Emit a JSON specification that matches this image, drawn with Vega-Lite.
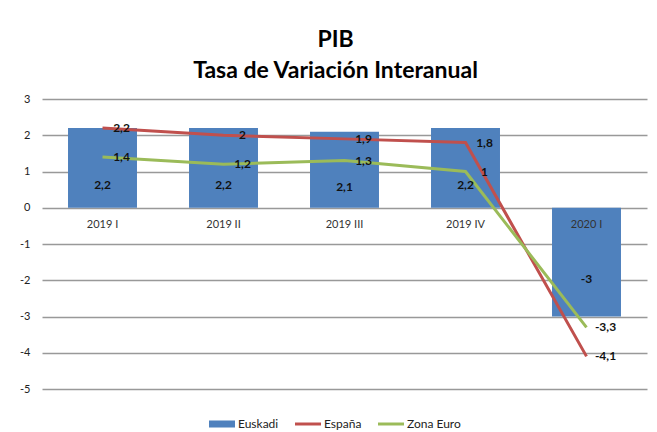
{
  "$schema": "https://vega.github.io/schema/vega-lite/v6.json",
  "width": 605,
  "height": 290,
  "autosize": {"type": "none"},
  "padding": {"left": 42, "top": 99, "right": 10, "bottom": 43},
  "config": {
    "locale": {"number": {"decimal": ",", "thousands": ".", "grouping": [3], "currency": ["", " €"], "minus": "-"}},
    "view": {"stroke": null},
    "font": "Lato",
    "axis": {"labelFont": "Lato", "labelColor": "#222", "labelFontSize": 11},
    "axisY": {"labelOverlap": false, "tickCount": 12, "domain": false, "ticks": false, "labelPadding": 12, "gridColor": "#999", "gridWidth": 1.3, "title": null}
  },
  "title": {
    "text": ["PIB", "Tasa de Variación Interanual"],
    "font": "Lato",
    "fontSize": 23,
    "fontWeight": "bold",
    "lineHeight": 31,
    "offset": 10,
    "dx": -9,
    "color": "#000"
  },
  "data": {
    "values": [
      {"q": "2019 I", "serie": "Euskadi", "v": 2.2},
      {"q": "2019 II", "serie": "Euskadi", "v": 2.2},
      {"q": "2019 III", "serie": "Euskadi", "v": 2.1},
      {"q": "2019 IV", "serie": "Euskadi", "v": 2.2},
      {"q": "2020 I", "serie": "Euskadi", "v": -3},
      {"q": "2019 I", "serie": "España", "v": 2.2},
      {"q": "2019 II", "serie": "España", "v": 2},
      {"q": "2019 III", "serie": "España", "v": 1.9},
      {"q": "2019 IV", "serie": "España", "v": 1.8},
      {"q": "2020 I", "serie": "España", "v": -4.1},
      {"q": "2019 I", "serie": "Zona Euro", "v": 1.4},
      {"q": "2019 II", "serie": "Zona Euro", "v": 1.2},
      {"q": "2019 III", "serie": "Zona Euro", "v": 1.3},
      {"q": "2019 IV", "serie": "Zona Euro", "v": 1},
      {"q": "2020 I", "serie": "Zona Euro", "v": -3.3}
    ]
  },
  "encoding": {
    "x": {
      "field": "q",
      "type": "nominal",
      "sort": null,
      "title": null,
      "scale": {"paddingInner": 0.43, "paddingOuter": 0.215},
      "axis": {"labelAngle": 0, "domain": false, "ticks": false, "offset": -181, "labelPadding": 10, "zindex": 2, "labelColor": "#333"}
    }
  },
  "layer": [
    {
      "transform": [{"filter": "datum.serie === 'Euskadi'"}],
      "mark": {"type": "bar"},
      "encoding": {
        "y": {
          "field": "v",
          "type": "quantitative",
          "title": null,
          "scale": {"domain": [-5, 3], "nice": false},
          "axis": {"values": [-5, -4, -3, -2, -1, 0, 1, 2, 3], "tickCount": 12, "format": "d", "labelOverlap": false}
        },
        "color": {
          "field": "serie",
          "type": "nominal",
          "scale": {"domain": ["Euskadi", "España", "Zona Euro"], "range": ["#4F81BD", "#C0504D", "#9BBB59"]},
          "legend": {
            "title": null,
            "orient": "none",
            "legendX": 167,
            "legendY": 312,
            "padding": 0,
            "direction": "horizontal",
            "labelFontSize": 12,
            "labelColor": "#222",
            "symbolSize": 676,
            "columnPadding": 16,
            "labelOffset": 3,
            "encode": {
              "symbols": {
                "update": {
                  "shape": {"signal": "datum.value === 'Euskadi' ? 'M-1,-0.27H1V0.27H-1Z' : 'M-1,-0.115H1V0.115H-1Z'"},
                  "strokeWidth": {"value": 0}
                }
              }
            }
          }
        }
      }
    },
    {
      "transform": [{"filter": "datum.serie !== 'Euskadi'"}],
      "mark": {"type": "line", "strokeWidth": 3},
      "encoding": {
        "y": {"field": "v", "type": "quantitative"},
        "color": {"field": "serie", "type": "nominal"}
      }
    },
    {
      "transform": [{"filter": "datum.serie === 'Euskadi'"}, {"calculate": "datum.v / 2", "as": "mid"}],
      "mark": {"type": "text", "fontWeight": "bold", "fontSize": 12, "dy": 17, "color": "#111"},
      "encoding": {
        "y": {"field": "mid", "type": "quantitative"},
        "text": {"field": "v", "type": "quantitative", "format": ".1~f"}
      }
    },
    {
      "transform": [{"filter": "datum.serie !== 'Euskadi'"}],
      "mark": {"type": "text", "fontWeight": "bold", "fontSize": 12, "dx": 19, "dy": 0, "color": "#111"},
      "encoding": {
        "y": {"field": "v", "type": "quantitative"},
        "text": {"field": "v", "type": "quantitative", "format": ".1~f"}
      }
    }
  ]
}
